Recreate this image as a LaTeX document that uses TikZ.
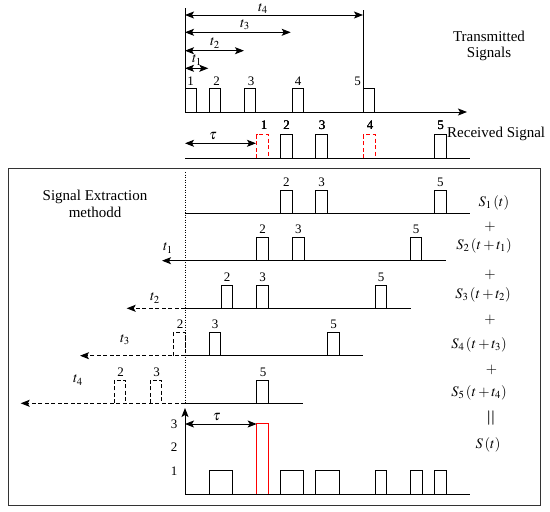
\documentclass[tikz,border=0pt]{standalone}
\usepackage{mathptmx}
\usepackage{fontspec}
\setmainfont{Liberation Serif}
\usetikzlibrary{positioning, calc, arrows.meta}

\tikzset{
  sig/.style={line width=0.9pt},
  lost/.style={sig,red,dash pattern=on 4pt off 2.5pt},
  ghost/.style={sig,dash pattern=on 4pt off 2.5pt},
  num/.style={inner sep=0pt,font=\fontsize{13}{15}\selectfont},
  lab/.style={inner sep=0pt,font=\fontsize{14.5}{16}\selectfont},
  txt/.style={inner sep=0pt,align=center,font=\fontsize{15}{16.5}\selectfont},
}
% one pulse: [style]{left x}{base y}
\newcommand{\sigpulse}[3][]{\draw[sig,#1] (#2,#3) -- ++(0,-23.3) -- ++(11.7,0) -- ++(0,23.3);}

\begin{document}
\begin{tikzpicture}[x=1pt,y=-1pt,>={Stealth[length=9pt,width=7pt,inset=2pt]}]
  \useasboundingbox (0,0) rectangle (550,512);
  % transmitted
  \coordinate (tx0) at (185,112);
  \coordinate (txend) at (467,112);
  \draw[sig,->] (tx0) -- (txend);%time axis
  \draw[sig] (185,8) -- (tx0);
  \draw[sig] (363,10) -- (363,112);
  \foreach \x/\n/\lx in {185/1/190.7,209/2/216.7,244/3/251,292/4/298,363/5/357.5}{
    \sigpulse{\x}{112}
    \node[num] (tx\n) at (\lx,81) {\n};
  }
  \foreach \i/\y/\xe/\lx/\ly in {4/15/363/263/8.5,3/32.3/290.7/245/25,2/50.7/244/215/43,1/68.3/208.3/197/60}{
    \coordinate (ta\i) at (185,\y);
    \coordinate (tb\i) at (\xe,\y);
    \draw[sig,<->] (ta\i) -- (tb\i);
    \node[lab] (t\i) at (\lx,\ly) {$t_\i$};
  }
  \node[txt] (txsig) at (489,46) {Transmitted\\Signals};
  % received
  \coordinate (rx0) at (185,158);
  \coordinate (rxend) at (470,158);
  \draw[sig] (rx0) -- (rxend);
  \sigpulse[lost]{256.7}{158}
  \sigpulse[lost]{363.3}{158}
  \foreach \x in {280.3,315.7,434.3} \sigpulse{\x}{158}
  \foreach \n/\lx in {1/264,2/286.7,3/322,4/370,5/440.7}
    \node[num] (rx\n) at (\lx,125) {\n};
  \coordinate (taua) at (185,143.3);
  \coordinate (taub) at (256,143.3);
  \draw[sig,<->] (taua) -- (taub);
  \node[lab] (tau) at (213,136) {$\tau$};
  \node[txt,anchor=west] (rxsig) at (447,134) {Received Signal};
  % extraction
  \draw[line width=1pt,black!80] (8,168) rectangle (540,505);
  \draw[sig,dash pattern=on 1pt off 1.5pt] (185,172) -- (185,403);
  \node[txt] (method) at (95,204) {Signal Extraction\\methodd};
  % S1
  \draw[sig] (185,213.3) -- (470,213.3);
  \foreach \x/\n in {280.3/2,315.7/3,434.3/5}{
    \sigpulse{\x}{213.3}
    \node[num] (a\n) at (\x+6,182) {\n};
  }
  % S2
  \coordinate (b0) at (185,260.7);
  \coordinate (b1) at (162,260.7);
  \draw[sig] (b0) -- (446,260.7);
  \draw[sig,->] (b0) -- (b1);
  \node[lab] (bt) at (168,248) {$t_1$};
  \foreach \x/\n in {256.7/2,292.3/3,410/5}{
    \sigpulse{\x}{260.7}
    \node[num] (b\n) at (\x+6,229.5) {\n};
  }
  % S3
  \coordinate (c0) at (185,308.3);
  \coordinate (c1) at (126.7,308.3);
  \draw[sig] (c0) -- (411,308.3);
  \draw[ghost,->] (c0) -- (c1);
  \node[lab] (ct) at (155,298) {$t_2$};
  \foreach \x/\n in {221/2,256.7/3,375/5}{
    \sigpulse{\x}{308.3}
    \node[num] (c\n) at (\x+6,277) {\n};
  }
  % S4
  \coordinate (d0) at (185,355.7);
  \coordinate (d1) at (80,355.7);
  \draw[sig] (d0) -- (363.3,355.7);
  \draw[ghost,->] (d0) -- (d1);
  \node[lab] (dt) at (125,340) {$t_3$};
  \sigpulse[ghost]{173.3}{355.7}
  \node[num] (d2) at (180,324.5) {2};
  \foreach \x/\n in {209/3,327.7/5}{
    \sigpulse{\x}{355.7}
    \node[num] (d\n) at (\x+6,324.5) {\n};
  }
  % S5
  \coordinate (e0) at (185,403.3);
  \coordinate (e1) at (20.7,403.3);
  \draw[sig] (e0) -- (303.3,403.3);
  \draw[ghost,->] (e0) -- (e1);
  \node[lab] (et) at (78,380) {$t_4$};
  \foreach \x/\n in {114/2,150/3}{
    \sigpulse[ghost]{\x}{403.3}
    \node[num] (e\n) at (\x+6.5,372.3) {\n};
  }
  \sigpulse{256.7}{403.3}
  \node[num] (e5) at (263,372.3) {5};
  % right column
  \node[lab] (s1) at (494,203) {$S_1\left(t\right)$};
  \node[lab] (p1) at (490,227) {$+$};
  \node[lab] (s2) at (484,246) {$S_2\left(t+t_1\right)$};
  \node[lab] (p2) at (490,275) {$+$};
  \node[lab] (s3) at (483,295) {$S_3\left(t+t_2\right)$};
  \node[lab] (p3) at (490,320) {$+$};
  \node[lab] (s4) at (479,345) {$S_4\left(t+t_3\right)$};
  \node[lab] (p4) at (491.5,370) {$+$};
  \node[lab] (s5) at (479,393) {$S_5\left(t+t_4\right)$};
  \node[lab,rotate=90,scale=1.5] (eq) at (492.5,418) {$=$};
  \node[lab] (st) at (488,445) {$S\left(t\right)$};
  % sum
  \coordinate (o) at (185,494);
  \coordinate (ytop) at (185,408);
  \coordinate (xend) at (470,494);
  \draw[sig,->] (o) -- (ytop);
  \draw[sig] (o) -- (xend);
  \foreach \n/\y in {1/471.5,2/447,3/424}
    \node[num] (y\n) at (174,\y) {\n};
  \foreach \a/\b in {209/232.7,280/303.3,315.7/339.3,375/386.7,410/422.3,434.3/446}
    \draw[sig] (\a,494) -- (\a,470.7) -- (\b,470.7) -- (\b,494);
  \draw[sig,red] (256.7,494) -- (256.7,423.3) -- (268.3,423.3) -- (268.3,494);
  \coordinate (sa) at (185,424);
  \coordinate (sb) at (256.7,424);
  \draw[sig,<->] (sa) -- (sb);
  \node[lab] (stau) at (216.7,417) {$\tau$};
\end{tikzpicture}
\end{document}
